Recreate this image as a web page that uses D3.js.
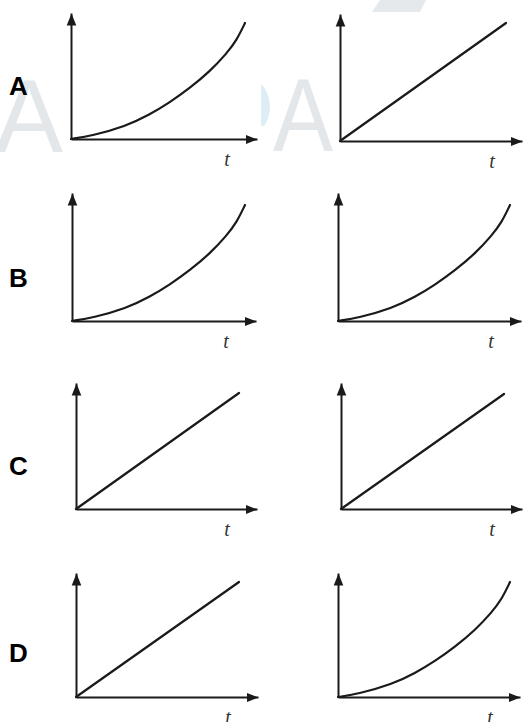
<!DOCTYPE html>
<html>
<head>
<meta charset="utf-8">
<script src="https://cdn.jsdelivr.net/npm/d3@7"></script>
<style>
  html, body { margin: 0; padding: 0; background: #fff; }
  svg { display: block; }
</style>
</head>
<body>
<div class="chart"></div>
<script>
// option letters, one row each
const options = ["A", "B", "C", "D"];
// which graph sits in the left / right panel of each row
const leftShapes = ["curve", "curve", "line", "line"];
const rightShapes = ["line", "curve", "line", "curve"];
// curve (t and value, 0..1 of the drawn range)
const curveT = [0, 0.12, 0.314, 0.449, 0.565, 0.681, 0.797, 0.894, 0.952, 1];
const curveV = [0, 0.028, 0.11, 0.208, 0.313, 0.437, 0.581, 0.736, 0.851, 1];
// straight line through the origin
const lineT = [0, 1];
const lineV = [0, 1];
const axisLabel = "t";

const width = 523;
const height = 722;

// panel geometry: origin x, x-axis y, y-arrow tip, x-arrow tip, end of the graph
const panels = [
  { ox: 71, oy: 139, top: 13, right: 257, ex: 245, ey: 23, lx: 9, ly: 95 },
  { ox: 340, oy: 141, top: 14, right: 522, ex: 506, ey: 23 },
  { ox: 72, oy: 321, top: 193, right: 256, ex: 245, ey: 205, lx: 9, ly: 287 },
  { ox: 338, oy: 321, top: 193, right: 521, ex: 510, ey: 205 },
  { ox: 76, oy: 509, top: 383, right: 257, ex: 239, ey: 393, lx: 9, ly: 475 },
  { ox: 341, oy: 509, top: 383, right: 522, ex: 504, ey: 394 },
  { ox: 76, oy: 697, top: 573, right: 258, ex: 239, ey: 582, lx: 9, ly: 662 },
  { ox: 338, oy: 697, top: 573, right: 520, ex: 510, ey: 582 },
];

const svg = d3
  .select(".chart")
  .append("svg")
  .attr("width", width)
  .attr("height", height)
  .attr("viewBox", [0, 0, width, height]);

// arrow head
svg
  .append("defs")
  .append("marker")
  .attr("id", "arrow")
  .attr("markerUnits", "userSpaceOnUse")
  .attr("viewBox", "0 -6 13 12")
  .attr("refX", 12)
  .attr("refY", 0)
  .attr("markerWidth", 13)
  .attr("markerHeight", 12)
  .attr("orient", "auto")
  .append("path")
  .attr("d", "M0,-4.8L12,0L0,4.8Z")
  .attr("fill", "#1a1a1a");

// faint watermark behind the first row
const wm = svg.append("g").attr("class", "watermark");
wm.append("text")
  .attr("x", -5)
  .attr("y", 152)
  .attr("textLength", 68)
  .attr("lengthAdjust", "spacingAndGlyphs")
  .style("font-family", "Liberation Sans, Arial, sans-serif")
  .style("font-size", "104px")
  .attr("fill", "#e4e7ea")
  .text("A");
wm.append("text")
  .attr("x", 273)
  .attr("y", 151)
  .attr("textLength", 60)
  .attr("lengthAdjust", "spacingAndGlyphs")
  .style("font-family", "Liberation Sans, Arial, sans-serif")
  .style("font-size", "104px")
  .attr("fill", "#e4e7ea")
  .text("A");
wm.append("path")
  .attr("d", "M261,84 C270,92 274,112 264,126 L261,126 Z")
  .attr("fill", "#dcedf6");
wm.append("path")
  .attr("d", "M380,0 L426,0 L420,12 L372,12 Z")
  .attr("fill", "#e6e9ec");

const curveData = curveT.map((t, i) => [t, curveV[i]]);
const lineData = lineT.map((t, i) => [t, lineV[i]]);

const shapes = [];
options.forEach((o, i) => {
  shapes.push(leftShapes[i]);
  shapes.push(rightShapes[i]);
});

panels.forEach((p, i) => {
  const g = svg.append("g").attr("class", "panel");

  const x = d3.scaleLinear().domain([0, 1]).range([p.ox, p.ex]);
  const y = d3.scaleLinear().domain([0, 1]).range([p.oy, p.ey]);

  // axes: scales reaching out to the arrow tips
  const xa = d3.scaleLinear().domain([0, 1]).range([p.ox, p.right]);
  const ya = d3.scaleLinear().domain([0, 1]).range([p.oy, p.top]);

  g.append("g")
    .attr("transform", `translate(0,${p.oy})`)
    .call(d3.axisBottom(xa).ticks(0).tickSizeOuter(0))
    .call((a) =>
      a
        .select(".domain")
        .attr("stroke", "#1a1a1a")
        .attr("stroke-width", 2)
        .attr("marker-end", "url(#arrow)")
    );

  g.append("g")
    .attr("transform", `translate(${p.ox},0)`)
    .call(d3.axisLeft(ya).ticks(0).tickSizeOuter(0))
    .call((a) =>
      a
        .select(".domain")
        .attr("stroke", "#1a1a1a")
        .attr("stroke-width", 2)
        .attr("marker-end", "url(#arrow)")
    );

  const line = d3
    .line()
    .x((d) => x(d[0]))
    .y((d) => y(d[1]))
    .curve(d3.curveBasis);

  g.append("path")
    .datum(shapes[i] == "curve" ? curveData : lineData)
    .attr("fill", "none")
    .attr("stroke", "#1a1a1a")
    .attr("stroke-width", 2.2)
    .attr("stroke-linecap", "round")
    .attr("d", line);

  // t label under the x axis
  g.append("text")
    .attr("x", p.right - 30)
    .attr("y", p.oy + 27)
    .attr("text-anchor", "middle")
    .style("font-family", "Liberation Serif, Times New Roman, serif")
    .style("font-style", "italic")
    .style("font-size", "20px")
    .attr("fill", "#333")
    .text(axisLabel);

  // option letter
  if (p.lx != null) {
    svg
      .append("text")
      .attr("x", p.lx)
      .attr("y", p.ly)
      .style("font-family", "Liberation Sans, Arial, sans-serif")
      .style("font-size", "26px")
      .style("font-weight", "bold")
      .attr("fill", "#000")
      .text(options[i / 2]);
  }
});
</script>
</body>
</html>
